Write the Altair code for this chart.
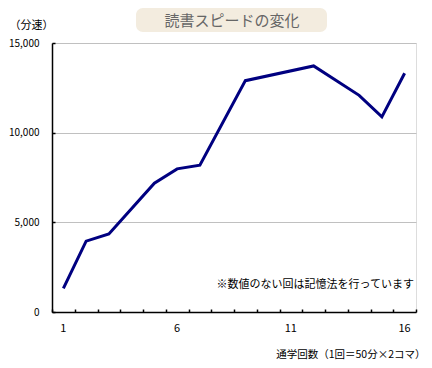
import altair as alt
import pandas as pd

rounds = list(range(1, 17))
speed = [1320, 3950, 4350, None, 7180, 7980, 8190, None, 12900, None, None,
         13720, None, 12080, 10880, 13310]
y_ticks = [0, 5000, 10000, 15000]
title_text = "読書スピードの変化"
y_title = "（分速）"
x_title = "通学回数（1回＝50分×2コマ）"
note_text = "※数値のない回は記憶法を行っています"

df = pd.DataFrame({"round": rounds, "speed": speed})

W, H = 364, 269
FONT = "Noto Sans CJK JP"

xscale = alt.Scale(type="band", domain=rounds, paddingInner=0, paddingOuter=0)
yscale = alt.Scale(domain=[0, 15000], nice=False)

base = alt.Chart(df).transform_filter("isValid(datum.speed)")

line = base.mark_line(color="#000080", strokeWidth=3).encode(
    x=alt.X("round:O", scale=xscale,
            axis=alt.Axis(orient="bottom", title=x_title, ticks=False,
                          labelAngle=0, labelPadding=10, labelOverlap=False,
                          labelExpr="datum.value % 5 == 1 ? datum.label : ''",
                          domainColor="#000000", domainWidth=1.5,
                          labelFontSize=11, labelColor="#000000",
                          titleFontSize=10.5, titleFontWeight="normal",
                          titleColor="#000000",
                          titleX=373, titleY=42, titleAlign="right",
                          titleBaseline="middle")),
    y=alt.Y("speed:Q", scale=yscale,
            axis=alt.Axis(orient="left", values=y_ticks, format=",d",
                          ticks=False, labelPadding=13, grid=True,
                          gridColor="#C0C0C0", gridWidth=1,
                          domainColor="#000000", domainWidth=1.5,
                          labelFontSize=10, labelColor="#000000",
                          title=y_title, titleAngle=0, titleX=-43, titleY=-18,
                          titleAlign="left", titleBaseline="middle",
                          titleFontSize=11, titleFontWeight="normal",
                          titleColor="#000000")),
)

tick_layer = base.mark_line(opacity=0).encode(
    x=alt.X("round:O", scale=xscale,
            axis=alt.Axis(orient="top", offset=-H, labels=False, domain=False,
                          ticks=True, tickSize=3, tickColor="#000000",
                          tickWidth=1.5, tickBand="extent", title=None,
                          grid=False)),
    y=alt.Y("speed:Q", scale=yscale,
            axis=alt.Axis(orient="right", offset=-W, labels=False,
                          domain=False, values=y_ticks, ticks=True, tickSize=3,
                          tickColor="#000000", tickWidth=1.5, title=None,
                          grid=False)),
)

box = alt.Chart(pd.DataFrame({"t": [title_text]})).mark_rect(
    color="#F3ECDF", cornerRadius=7
).encode(x=alt.value(84), x2=alt.value(275), y=alt.value(-35), y2=alt.value(-11))

title = alt.Chart(pd.DataFrame({"t": [title_text]})).mark_text(
    font=FONT, fontSize=15, color="#666666", align="center", baseline="middle"
).encode(x=alt.value(180), y=alt.value(-22), text="t:N")

note = alt.Chart(pd.DataFrame({"t": [note_text]})).mark_text(
    font=FONT, fontSize=11, color="#000000", align="right", baseline="middle"
).encode(x=alt.value(362), y=alt.value(242), text="t:N")

chart = alt.layer(line, tick_layer, box, title, note).resolve_axis(
    x="independent", y="independent"
).properties(
    width=W, height=H,
    autosize=alt.AutoSizeParams(type="none"),
    padding={"left": 44, "top": 35, "right": 8, "bottom": 48},
).configure_view(stroke=None).configure(
    font=FONT
).configure_axis(labelFont=FONT, titleFont=FONT)

chart.save("out.html", embed_options={"renderer": "svg", "actions": False})
